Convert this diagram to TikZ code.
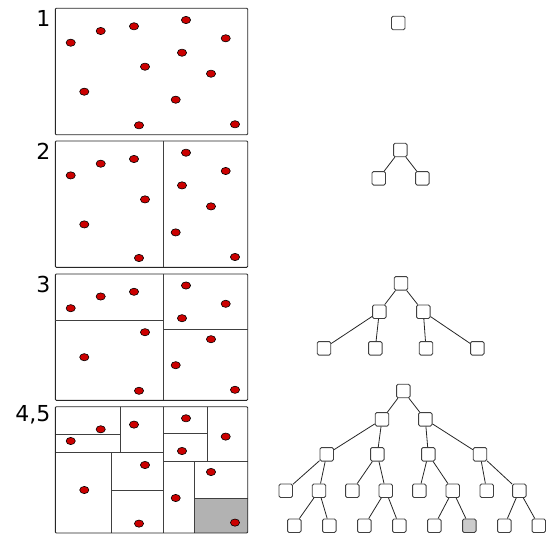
\documentclass[tikz,border=0pt]{standalone}
\usepackage{fontspec}
\setmainfont{DejaVu Sans}
\begin{document}
\begin{tikzpicture}[x=1pt,y=-1pt,
  panel/.style={draw=black!85, line width=0.9pt},
  split/.style={draw=black!75, line width=0.8pt},
  tnode/.style={draw=black!75, line width=0.9pt, rounded corners=1.5pt, minimum size=13.5pt, inner sep=0pt, fill=white},
  gnode/.style={tnode, fill=black!20},
  tedge/.style={draw=black!85, line width=0.8pt},
  lbl/.style={anchor=base east, inner sep=0pt, font=\fontsize{22}{26}\selectfont},
  dotc/.style={draw=black, fill=red!80!black, line width=0.6pt}]
\useasboundingbox (0,0) rectangle (546,535);
% labels
\node[lbl] (l1) at (50.5,26.7) {1};
\node[lbl] (l2) at (50.5,159.2) {2};
\node[lbl] (l3) at (50.5,292.2) {3};
\node[lbl] (l4) at (50.5,421) {4,5};
% panel 1
\draw[panel, rounded corners=1pt] (55.3,8.3) rectangle (247.7,134.7);
% panel 2
\draw[panel, rounded corners=1pt] (55.3,141) rectangle (247.7,267.4);
\draw[split] (163,141) -- (163,267.4);
% panel 3
\draw[panel, rounded corners=1pt] (55.3,274) rectangle (247.7,400.4);
\draw[split] (163,274) -- (163,400.4);
\draw[split] (55.3,320) -- (163,320);
\draw[split] (163,329) -- (247.7,329);
% panel 4
\fill[black!30] (194.3,498.3) rectangle (247.7,533);
\draw[split] (163,406.7) -- (163,533);
\draw[split] (55.3,452.3) -- (163,452.3);
\draw[split] (163,461) -- (247.7,461);
\draw[split] (120,406.7) -- (120,452.3);
\draw[split] (55.3,434.7) -- (120,434.7);
\draw[split] (111.7,452.3) -- (111.7,533);
\draw[split] (111.7,490) -- (163,490);
\draw[split] (207.3,406.7) -- (207.3,461);
\draw[split] (163,433.3) -- (207.3,433.3);
\draw[split] (194.3,461) -- (194.3,533);
\draw[split] (194.3,498.3) -- (247.7,498.3);
\draw[panel, rounded corners=1pt] (55.3,406.7) rectangle (247.7,533);
% dots
\foreach \s in {0,132.7,265.5,398.3}{
  \foreach \px/\py in {70.7/42.7,100.7/31,134/26.3,186/20,225.7/38.3,182/52.7,145/66.7,211/73.7,84.3/91.7,175.7/99.7,139/125.3,235/124.3}{
    \draw[dotc] (\px,\py+\s) ellipse [x radius=4.6pt, y radius=3.6pt];
  }
}
% tree 1
\node[tnode] (a0) at (398.2,23) {};
% tree 2
\node[tnode] (b0) at (400.3,150) {};
\node[tnode] (b1) at (378.7,178.3) {};
\node[tnode] (b2) at (422.3,178.3) {};
\draw[tedge] (b0) -- (b1);
\draw[tedge] (b0) -- (b2);
% tree 3
\node[tnode] (c0) at (401,283.3) {};
\node[tnode] (c1) at (379.3,311.7) {};
\node[tnode] (c2) at (423.3,311.7) {};
\node[tnode] (c3) at (324,348.3) {};
\node[tnode] (c4) at (375.3,348.3) {};
\node[tnode] (c5) at (426,348.3) {};
\node[tnode] (c6) at (477.3,348.3) {};
\foreach \p/\c in {c0/c1,c0/c2,c1/c3,c1/c4,c2/c5,c2/c6}{\draw[tedge] (\p) -- (\c);}
% tree 4
\node[tnode] (d0) at (403.3,391) {};
\node[tnode] (d1) at (382,419.3) {};
\node[tnode] (d2) at (425.3,419.3) {};
\node[tnode] (e1) at (326.7,454.3) {};
\node[tnode] (e2) at (377.3,454.3) {};
\node[tnode] (e3) at (428.3,454.3) {};
\node[tnode] (e4) at (480,454.3) {};
\node[tnode] (f1) at (285.7,490.7) {};
\node[tnode] (f2) at (319,490.7) {};
\node[tnode] (f3) at (352.3,490.7) {};
\node[tnode] (f4) at (385.7,490.7) {};
\node[tnode] (f5) at (419.3,490.7) {};
\node[tnode] (f6) at (452.7,490.7) {};
\node[tnode] (f7) at (486.7,490.7) {};
\node[tnode] (f8) at (519.3,490.7) {};
\node[tnode] (g1) at (294.3,525.7) {};
\node[tnode] (g2) at (329.3,525.7) {};
\node[tnode] (g3) at (364.3,525.7) {};
\node[tnode] (g4) at (399.3,525.7) {};
\node[tnode] (g5) at (434.3,525.7) {};
\node[gnode] (g6) at (469.3,525.7) {};
\node[tnode] (g7) at (504.3,525.7) {};
\node[tnode] (g8) at (538.8,525.7) {};
\foreach \p/\c in {d0/d1,d0/d2,d1/e1,d1/e2,d2/e3,d2/e4,e1/f1,e1/f2,e2/f3,e2/f4,e3/f5,e3/f6,e4/f7,e4/f8,f2/g1,f2/g2,f4/g3,f4/g4,f6/g5,f6/g6,f8/g7,f8/g8}{\draw[tedge] (\p) -- (\c);}
\end{tikzpicture}
\end{document}
